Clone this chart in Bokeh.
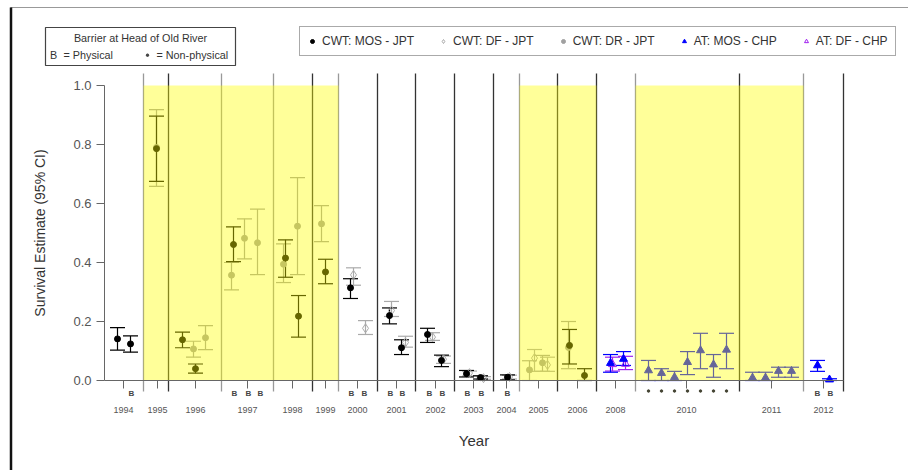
from bokeh.plotting import figure
from bokeh.models import (ColumnDataSource, LinearAxis, FixedTicker, Whisker, TeeHead,
                          Legend, LegendItem, Range1d, NumeralTickFormatter)
from bokeh.core.properties import value
from bokeh.embed import file_html
from bokeh.resources import INLINE

FONT = value("Liberation Sans")

# ---------------- data ----------------
# CWT: MOS - JPT
mos_x = [1.3, 2.6, 5.2, 7.8, 9.1, 12.9, 18.1, 19.4, 22.1, 24.6, 28.5, 29.7, 32.3, 33.7, 36.2, 37.6, 40.3, 46.5, 48.0]
mos_y = [0.141, 0.124, 0.786, 0.138, 0.040, 0.461, 0.415, 0.218, 0.368, 0.314, 0.220, 0.111, 0.156, 0.068, 0.023, 0.010, 0.011, 0.119, 0.017]
mos_lo = [0.103, 0.096, 0.675, 0.111, 0.025, 0.403, 0.350, 0.147, 0.328, 0.278, 0.192, 0.088, 0.129, 0.047, 0.012, 0.005, 0.002, 0.056, 0.0]
mos_hi = [0.179, 0.151, 0.896, 0.164, 0.056, 0.521, 0.477, 0.288, 0.411, 0.345, 0.246, 0.138, 0.177, 0.086, 0.034, 0.016, 0.019, 0.173, 0.040]

# CWT: DF - JPT
df_x = [24.9, 26.1, 28.7, 30.1, 32.8, 33.9, 36.5, 37.9, 40.5, 43.0, 44.3]
df_y = [0.358, 0.177, 0.237, 0.129, 0.147, 0.072, 0.025, 0.008, 0.012, 0.076, 0.053]
df_lo = [0.323, 0.156, 0.217, 0.113, 0.136, 0.058, 0.015, 0.004, 0.005, 0.031, 0.031]
df_hi = [0.382, 0.203, 0.268, 0.150, 0.162, 0.083, 0.032, 0.013, 0.018, 0.105, 0.079]

# CWT: DR - JPT
dr_x = [5.2, 8.9, 10.1, 12.7, 14.0, 15.3, 17.9, 19.3, 21.7, 42.5, 43.8, 46.4]
dr_y = [0.790, 0.107, 0.145, 0.357, 0.482, 0.467, 0.394, 0.523, 0.531, 0.036, 0.060, 0.112]
dr_lo = [0.658, 0.079, 0.105, 0.307, 0.412, 0.359, 0.332, 0.359, 0.471, 0.0, 0.031, 0.040]
dr_hi = [0.918, 0.133, 0.186, 0.400, 0.548, 0.581, 0.463, 0.688, 0.593, 0.067, 0.085, 0.200]

# AT: MOS - CHP
at_x = [50.6, 51.9, 54.4, 55.7, 57.0, 58.3, 59.6, 60.9, 62.2, 64.8, 66.1, 67.4, 68.7, 71.3, 72.5]
at_y = [0.059, 0.073, 0.034, 0.025, 0.011, 0.062, 0.102, 0.054, 0.104, 0.009, 0.009, 0.032, 0.032, 0.051, 0.003]
at_lo = [0.028, 0.051, 0.0, 0.0, 0.0, 0.020, 0.040, 0.011, 0.040, 0.0, 0.0, 0.011, 0.011, 0.031, 0.0]
at_hi = [0.088, 0.098, 0.068, 0.040, 0.031, 0.098, 0.160, 0.088, 0.160, 0.028, 0.028, 0.045, 0.045, 0.068, 0.006]

# AT: DF - CHP
atdf_x = [50.8, 52.1]
atdf_y = [0.055, 0.056]
atdf_lo = [0.032, 0.037]
atdf_hi = [0.079, 0.082]

# release years (axis ticks)
year_labels = ["1994", "1995", "1996", "1997", "1998", "1999", "2000", "2001", "2002",
               "2003", "2004", "2005", "2006", "2008", "2010", "2011", "2012"]
year_pos = [1.9, 5.3, 9.1, 14.3, 18.8, 22.1, 25.3, 29.2, 33.1, 36.9, 40.2, 43.4, 47.3,
            51.1, 58.2, 66.7, 71.9]

# year separators (1 = dark line, 0 = grey line)
sep_x = [3.9, 6.4, 11.7, 16.9, 20.8, 23.4, 27.3, 31.1, 35.0, 38.9, 41.5, 45.3, 49.2, 53.1, 63.5, 69.9, 73.9]
sep_dark = [0, 1, 0, 0, 1, 0, 1, 1, 1, 1, 0, 1, 1, 0, 1, 0, 1]

# highlighted (yellow) periods
hl_left = [3.9, 41.5, 53.1]
hl_right = [23.4, 49.2, 69.9]

# barrier at Head of Old River
phys_x = [2.7, 13.0, 14.4, 15.6, 24.7, 26.0, 28.6, 29.8, 32.5, 33.8, 36.3, 37.7, 40.3, 71.3, 72.6]
nonphys_x = [54.4, 55.7, 57.0, 58.3, 59.6, 60.9, 62.2]

# ---------------- layout helpers (page pixel -> data) ----------------
W, H = 908, 470
CX0, CY0 = 0, 0           # canvas top-left on page
OX, OY = 104, 380         # page pixel of data origin
SX, SY = 10.0, 295.0      # pixels per data unit


def dx(px):
    return (px - OX) / SX


def dy(py):
    return (OY - py) / SY


p = figure(width=W, height=H, output_backend="svg", toolbar_location=None,
           x_range=Range1d(dx(CX0), dx(CX0 + W)), y_range=Range1d(dy(CY0 + H), dy(CY0)),
           x_axis_location=None, y_axis_location=None, min_border=0,
           background_fill_color="white", border_fill_color="white")
p.outline_line_color = None
p.grid.visible = False

# page frame
p.segment(x0=[dx(10)], x1=[dx(CX0 + W + 5)], y0=[dy(7)], y1=[dy(7)],
          line_color="#999999", line_width=1.2)
p.segment(x0=[dx(10.5)], x1=[dx(10.5)], y0=[dy(7)], y1=[dy(CY0 + H + 5)],
          line_color="#111111", line_width=2.5)

# separators
sep_src = ColumnDataSource(dict(x=sep_x, c=["#333333" if d else "#999999" for d in sep_dark]))
p.segment(x0="x", x1="x", y0=dy(391), y1=dy(73), color="c", line_width=1.3, source=sep_src)

# series
series = [
    ("CWT: MOS - JPT", mos_x, mos_y, mos_lo, mos_hi, "black", "circle", 6, "black"),
    ("CWT: DF - JPT", df_x, df_y, df_lo, df_hi, "#aaaaaa", "diamond", 9, None),
    ("CWT: DR - JPT", dr_x, dr_y, dr_lo, dr_hi, "#a0a0a0", "circle", 6, "#a0a0a0"),
    ("AT: MOS - CHP", at_x, at_y, at_lo, at_hi, "#0000ff", "triangle", 8, "#0000ff"),
    ("AT: DF - CHP", atdf_x, atdf_y, atdf_lo, atdf_hi, "#a020f0", "triangle", 8, None),
]
draw_order = [2, 1, 0, 4, 3]
renderers = {}
for i in draw_order:
    name, xs, ys, lo, hi, col, mk, sz, fill = series[i]
    src = ColumnDataSource(dict(x=xs, y=ys, lo=lo, hi=hi))
    w = Whisker(source=src, base="x", lower="lo", upper="hi", dimension="height",
                line_color=col, line_width=1.2,
                upper_head=TeeHead(size=15, line_color=col, line_width=1.2),
                lower_head=TeeHead(size=15, line_color=col, line_width=1.2))
    p.add_layout(w)
    r = p.scatter("x", "y", source=src, marker=mk, size=sz, line_color=col,
                  fill_color=fill if fill else None, line_width=1.0)
    renderers[i] = r

# barrier markers
p.text(x=phys_x, y=[dy(393)] * len(phys_x), text=["B"] * len(phys_x), text_font=FONT,
       text_font_size="8px", text_font_style="bold", text_color="#444444",
       text_align="center", text_baseline="middle")
p.scatter(x=nonphys_x, y=[dy(390.5)] * len(nonphys_x), marker="circle", size=2.5,
          color="#444433")

# yellow highlight periods (semi-transparent, on top)
p.quad(left=hl_left, right=hl_right, bottom=0, top=1.0, fill_color="#ffff00",
       fill_alpha=0.4, line_color=None)

# axes
xaxis = LinearAxis(fixed_location=0, bounds=(0, sep_x[-1]),
                   ticker=FixedTicker(ticks=year_pos),
                   major_label_overrides={k: v for k, v in zip(year_pos, year_labels)},
                   axis_label="Year")
xaxis.axis_line_color = "#666666"
xaxis.major_tick_line_color = "#666666"
xaxis.major_tick_out = 8
xaxis.major_tick_in = 0
xaxis.minor_tick_line_color = None
xaxis.major_label_text_font = "Liberation Sans"
xaxis.major_label_text_font_size = "9px"
xaxis.major_label_text_color = "#555555"
xaxis.major_label_standoff = 18
xaxis.axis_label_text_font = "Liberation Sans"
xaxis.axis_label_text_font_size = "15px"
xaxis.axis_label_text_font_style = "normal"
xaxis.axis_label_text_color = "#333333"
xaxis.axis_label_standoff = 16
p.add_layout(xaxis, "below")

yaxis = LinearAxis(fixed_location=0, bounds=(0, 1),
                   ticker=FixedTicker(ticks=[0, 0.2, 0.4, 0.6, 0.8, 1.0]),
                   formatter=NumeralTickFormatter(format="0.0"),
                   axis_label="Survival Estimate (95% CI)")
yaxis.axis_line_color = "#666666"
yaxis.major_tick_line_color = "#666666"
yaxis.major_tick_out = 8
yaxis.major_tick_in = 0
yaxis.minor_tick_line_color = None
yaxis.major_label_text_font = "Liberation Sans"
yaxis.major_label_text_font_size = "13px"
yaxis.major_label_text_color = "#555555"
yaxis.major_label_standoff = 5
yaxis.axis_label_text_font = "Liberation Sans"
yaxis.axis_label_text_font_size = "14px"
yaxis.axis_label_text_font_style = "normal"
yaxis.axis_label_text_color = "#333333"
yaxis.axis_label_standoff = 22
p.add_layout(yaxis, "left")

# barrier legend box
p.quad(left=dx(45), right=dx(235), top=dy(27), bottom=dy(65), fill_color="white",
       line_color="#444444", line_width=1.2)
p.text(x=[dx(140)], y=[dy(37)], text=["Barrier at Head of Old River"], text_font=FONT,
       text_font_size="10.8px", text_color="#333333", text_align="center", text_baseline="middle")
p.text(x=[dx(53)], y=[dy(54.7)], text=["B"], text_font=FONT,
       text_font_size="10.8px", text_color="#333333", text_align="center", text_baseline="middle")
p.text(x=[dx(63), dx(156)], y=[dy(54.7)] * 2,
       text=["= Physical", "= Non-physical"], text_font=FONT,
       text_font_size="10.8px", text_color="#333333", text_align="left", text_baseline="middle")
p.scatter(x=[dx(147)], y=[dy(54.7)], marker="circle", size=2.5, color="#444444")

# series legend
legend = Legend(items=[LegendItem(label=series[i][0], renderers=[renderers[i]]) for i in range(5)],
                orientation="horizontal", location=(299 - CX0, CY0 + H - 56))
legend.label_text_font = "Liberation Sans"
legend.label_text_font_size = "12px"
legend.label_text_color = "#333333"
legend.glyph_width = 10
legend.glyph_height = 10
legend.label_standoff = 5
legend.spacing = 24
legend.padding = 7
legend.margin = 0
legend.border_line_color = "#555555"
legend.border_line_width = 1.5
legend.background_fill_color = "white"
legend.background_fill_alpha = 1.0
p.add_layout(legend, "center")

open("out.html", "w").write(file_html(p, INLINE))
